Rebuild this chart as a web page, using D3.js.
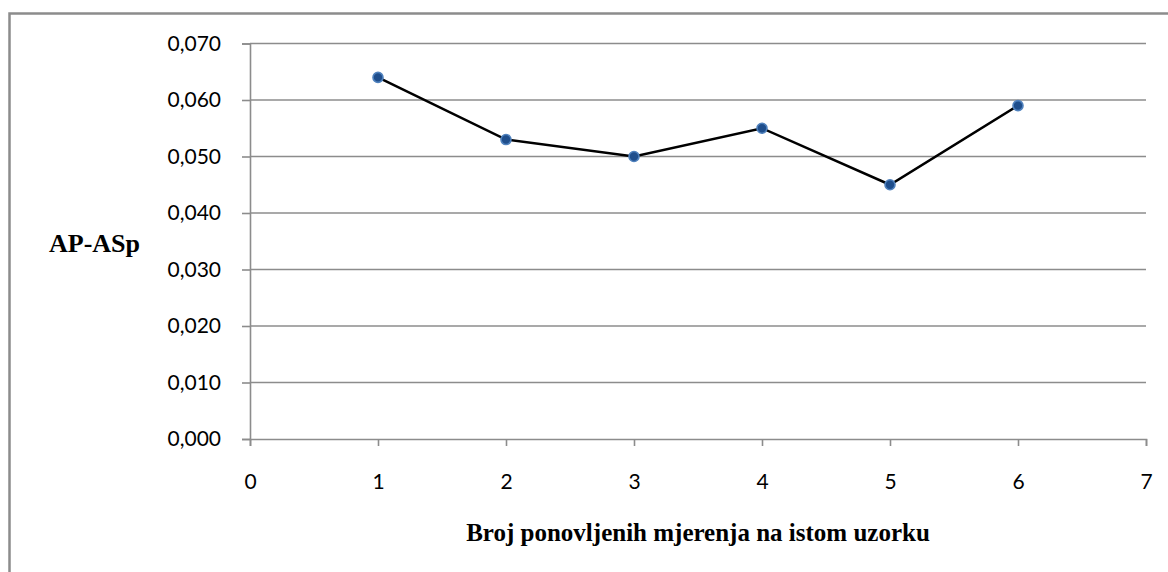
<!DOCTYPE html>
<html>
<head>
<meta charset="utf-8">
<script src="https://cdn.jsdelivr.net/npm/d3@7"></script>
<style>
  body { margin: 0; background: #fff; }
  .tick text { font-family: Lato, "Open Sans", sans-serif; }
</style>
</head>
<body>
<div id="chart"></div>
<script>
// data
const measurements = [1, 2, 3, 4, 5, 6];
const apAsp = [0.064, 0.053, 0.050, 0.055, 0.045, 0.059];
const xTicks = [0, 1, 2, 3, 4, 5, 6, 7];
const yTicks = [0, 0.01, 0.02, 0.03, 0.04, 0.05, 0.06, 0.07];

const width = 1168, height = 572;
const margin = { top: 43.5, right: 22, bottom: 133, left: 250 };

const svg = d3.select('#chart').append('svg')
  .attr('width', width)
  .attr('height', height);

// outer chart frame (right/bottom run off the picture)
svg.append('rect')
  .attr('x', 9.5).attr('y', 13.5)
  .attr('width', 1200).attr('height', 600)
  .attr('fill', 'none')
  .attr('stroke', '#8c8c8c')
  .attr('stroke-width', 2.5);

const x = d3.scaleLinear().domain([0, 7]).range([margin.left, width - margin.right]);
const y = d3.scaleLinear().domain([0, 0.07]).range([height - margin.bottom, margin.top]);

const fmt = d => d3.format('.3f')(d).replace('.', ',');

// horizontal gridlines
svg.append('g')
  .selectAll('line')
  .data(yTicks.slice(1))
  .join('line')
  .attr('x1', x(0)).attr('x2', x(7))
  .attr('y1', d => y(d)).attr('y2', d => y(d))
  .attr('stroke', '#8c8c8c')
  .attr('stroke-width', 1.6);

// y axis
const yAxis = svg.append('g')
  .attr('transform', `translate(${x(0)},0)`)
  .call(d3.axisLeft(y).tickValues(yTicks).tickFormat(fmt).tickSize(8).tickPadding(21));
yAxis.select('.domain').attr('stroke', '#8c8c8c').attr('stroke-width', 1.6);
yAxis.selectAll('.tick line').attr('stroke', '#8c8c8c').attr('stroke-width', 1.6);
yAxis.selectAll('.tick text').attr('font-size', 21).attr('fill', '#000');

// x axis
const xAxis = svg.append('g')
  .attr('transform', `translate(0,${y(0)})`)
  .call(d3.axisBottom(x).tickValues(xTicks).tickFormat(d3.format('d')).tickSize(7).tickPadding(28));
xAxis.select('.domain').attr('stroke', '#8c8c8c').attr('stroke-width', 1.6);
xAxis.selectAll('.tick line').attr('stroke', '#8c8c8c').attr('stroke-width', 1.6);
xAxis.selectAll('.tick text').attr('font-size', 21).attr('fill', '#000');

// series line
const points = measurements.map((m, i) => ({ m, v: apAsp[i] }));
svg.append('path')
  .datum(points)
  .attr('fill', 'none')
  .attr('stroke', '#000')
  .attr('stroke-width', 2.5)
  .attr('d', d3.line().x(d => x(d.m)).y(d => y(d.v)));

svg.append('g')
  .selectAll('circle')
  .data(points)
  .join('circle')
  .attr('cx', d => x(d.m))
  .attr('cy', d => y(d.v))
  .attr('r', 5)
  .attr('fill', '#1f4e8c')
  .attr('stroke', '#4f81bd')
  .attr('stroke-width', 1.6);

// axis titles
svg.append('text')
  .attr('x', 49).attr('y', 252)
  .attr('font-family', '"Liberation Serif", "Times New Roman", serif')
  .attr('font-weight', 'bold')
  .attr('font-size', 26)
  .text('AP-ASp');

svg.append('text')
  .attr('x', 698).attr('y', 541)
  .attr('text-anchor', 'middle')
  .attr('font-family', '"Liberation Serif", "Times New Roman", serif')
  .attr('font-weight', 'bold')
  .attr('font-size', 25)
  .text('Broj ponovljenih mjerenja na istom uzorku');
</script>
</body>
</html>
